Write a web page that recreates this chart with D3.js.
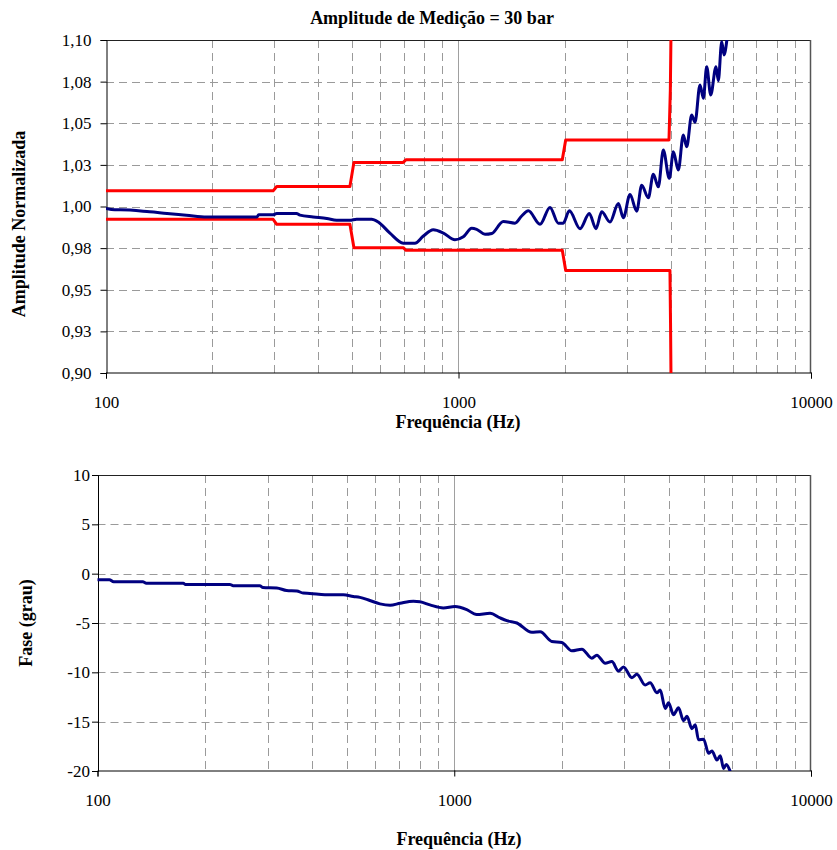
<!DOCTYPE html>
<html>
<head>
<meta charset="utf-8">
<script src="https://cdn.jsdelivr.net/npm/d3@7"></script>
<style>
  body { margin: 0; background: #fff; }
  svg { display: block; }
  text { font-family: "Liberation Serif", "Times New Roman", serif; fill: #000; }
</style>
</head>
<body>
<svg id="chart" width="837" height="850"></svg>
<script>
// ---- data ----
const freqTicks = [100, 1000, 10000];
const freqTickLabels = ["100", "1000", "10000"];
const freqMinor = [200, 300, 400, 500, 600, 700, 800, 900, 2000, 3000, 4000, 5000, 6000, 7000, 8000, 9000];

const ampTicks = [0.9, 0.925, 0.95, 0.975, 1.0, 1.025, 1.05, 1.075, 1.1];
const ampTickLabels = ["0,90", "0,93", "0,95", "0,98", "1,00", "1,03", "1,05", "1,08", "1,10"];

const phaseTicks = [-20, -15, -10, -5, 0, 5, 10];
const phaseTickLabels = ["-20", "-15", "-10", "-5", "0", "5", "10"];

// normalized amplitude response
const ampFreq = [100, 106, 110, 133, 149, 169, 193, 268, 271, 298, 305, 347, 355, 387, 423, 451, 492, 514, 567, 592,
  639, 697, 752, 795, 848, 906, 977, 1032, 1090, 1126, 1189, 1243, 1340, 1446, 1511, 1578, 1703, 1818, 1919, 1982,
  2063, 2212, 2350, 2455, 2548, 2690, 2841, 2935, 3066, 3203, 3309, 3455, 3570, 3689, 3811, 3963, 4070, 4203, 4342,
  4440, 4587, 4688, 4843, 4950, 5060, 5194, 5377, 5458, 5581, 5665, 5789, 5850];
const ampValue = [0.9988, 0.998, 0.998, 0.9968, 0.9958, 0.9948, 0.9937, 0.9937, 0.995, 0.995, 0.9958, 0.9958, 0.9948,
  0.9937, 0.9928, 0.9917, 0.9917, 0.9924, 0.9924, 0.9907, 0.984, 0.978, 0.9779, 0.9823, 0.986, 0.984, 0.980, 0.9818,
  0.9869, 0.9863, 0.9833, 0.9838, 0.991, 0.990, 0.9943, 0.9974, 0.9893, 0.9994, 0.990, 0.990, 0.9974, 0.9867, 0.9958,
  0.9867, 0.9968, 0.9907, 1.0018, 0.9932, 1.0072, 0.9972, 1.0128, 1.0052, 1.0193, 1.0118, 1.0339, 1.0169, 1.0329,
  1.0219, 1.0429, 1.0359, 1.055, 1.0506, 1.073, 1.065, 1.084, 1.067, 1.084, 1.0756, 1.099, 1.091, 1.102, 1.11];

// tolerance band
const upperFreq = [100, 298, 305, 492, 505, 697, 710, 1970, 2014, 3955, 3990, 4010];
const upperValue = [1.0094, 1.0094, 1.012, 1.012, 1.0265, 1.0265, 1.0281, 1.0281, 1.0399, 1.0399, 1.07, 1.11];
const lowerFreq = [100, 298, 305, 492, 505, 697, 710, 1970, 2014, 3980, 3995, 4010];
const lowerValue = [0.9923, 0.9923, 0.9893, 0.9893, 0.9753, 0.9753, 0.9737, 0.9737, 0.9616, 0.9616, 0.93, 0.89];

// phase response (degrees)
const phaseFreq = [100, 108, 111, 134, 137, 174, 176, 235, 240, 285, 291, 318, 339, 362, 377, 394, 434, 489, 521, 544,
  580, 619, 661, 705, 768, 802, 855, 932, 1005, 1084, 1156, 1260, 1345, 1404, 1498, 1650, 1741, 1877, 2002, 2136,
  2279, 2431, 2510, 2649, 2766, 2886, 2981, 3147, 3250, 3429, 3541, 3698, 3779, 3903, 3987, 4117, 4253, 4393, 4490,
  4637, 4737, 4839, 4998, 5162, 5276, 5450, 5568, 5688, 5788, 5940];
const phaseValue = [-0.61, -0.61, -0.82, -0.82, -0.96, -0.96, -1.09, -1.09, -1.22, -1.22, -1.40, -1.45, -1.7, -1.75,
  -1.97, -2.0, -2.14, -2.14, -2.31, -2.4, -2.72, -3.06, -3.2, -3.0, -2.79, -2.85, -3.16, -3.47, -3.33, -3.64, -4.15,
  -4.01, -4.49, -4.76, -5.0, -5.95, -5.88, -6.87, -6.97, -7.82, -7.65, -8.57, -8.26, -9.08, -8.91, -9.86, -9.45,
  -10.54, -10.2, -11.29, -11.05, -12.07, -11.8, -13.67, -13.09, -14.29, -13.6, -14.9, -14.46, -15.71, -15.3, -16.84,
  -16.77, -18.2, -17.97, -18.89, -18.45, -19.74, -19.33, -20.07];

// ---- drawing ----
const svg = d3.select("#chart");
const zip = (xs, ys) => xs.map((x, i) => [x, ys[i]]);

function panel(cfg) {
  const x = d3.scaleLog().domain([100, 10000]).range([cfg.left, cfg.right]);
  const y = d3.scaleLinear().domain(cfg.domain).range([cfg.bottom, cfg.top]);
  const g = svg.append("g");

  const clipId = "clip-" + cfg.id;
  svg.append("clipPath").attr("id", clipId)
    .append("rect").attr("x", cfg.left).attr("y", cfg.top)
    .attr("width", cfg.right - cfg.left).attr("height", cfg.bottom - cfg.top);

  // horizontal dashed grid
  g.append("g").selectAll("line").data(cfg.ticks.slice(1, -1)).join("line")
    .attr("x1", cfg.left).attr("x2", cfg.right)
    .attr("y1", d => Math.round(y(d)) + 0.5).attr("y2", d => Math.round(y(d)) + 0.5)
    .attr("stroke", "#9a9a9a").attr("stroke-width", 1).attr("stroke-dasharray", "8,5");
  // vertical dashed grid
  g.append("g").selectAll("line").data(freqMinor).join("line")
    .attr("x1", d => Math.round(x(d)) + 0.5).attr("x2", d => Math.round(x(d)) + 0.5)
    .attr("y1", cfg.top).attr("y2", cfg.bottom)
    .attr("stroke", "#9a9a9a").attr("stroke-width", 1).attr("stroke-dasharray", "8,5");
  // major decade line
  g.append("line")
    .attr("x1", Math.round(x(1000)) + 0.5).attr("x2", Math.round(x(1000)) + 0.5)
    .attr("y1", cfg.top).attr("y2", cfg.bottom)
    .attr("stroke", "#a0a0a0").attr("stroke-width", 1);

  // frame
  g.append("line").attr("x1", cfg.left).attr("x2", cfg.right)
    .attr("y1", cfg.top + 0.5).attr("y2", cfg.top + 0.5).attr("stroke", "#222");
  g.append("line").attr("x1", cfg.right - 0.5).attr("x2", cfg.right - 0.5)
    .attr("y1", cfg.top).attr("y2", cfg.bottom).attr("stroke", "#555").attr("stroke-width", 1.5);

  // axes
  const yAxis = d3.axisLeft(y).tickValues(cfg.ticks)
    .tickFormat((d, i) => cfg.labels[i]).tickSize(6).tickPadding(cfg.yPad);
  const ya = g.append("g").attr("transform", `translate(${cfg.left + 0.5},0)`).call(yAxis);
  ya.select(".domain").attr("stroke", "#000");
  ya.selectAll(".tick line").attr("stroke", "#000");
  ya.selectAll(".tick text").style("font-size", "17px")
    .style("font-family", '"Liberation Serif", "Times New Roman", serif');

  const xAxis = d3.axisBottom(x).tickValues(freqTicks)
    .tickFormat((d, i) => freqTickLabels[i]).tickSize(6).tickPadding(17);
  const xa = g.append("g").attr("transform", `translate(0,${cfg.bottom - 0.5})`).call(xAxis);
  xa.select(".domain").attr("stroke", "#000");
  xa.selectAll(".tick line").attr("stroke", "#000");
  xa.selectAll(".tick text").style("font-size", "17px")
    .style("font-family", '"Liberation Serif", "Times New Roman", serif');

  // series
  const plot = g.append("g").attr("clip-path", `url(#${clipId})`);
  cfg.series.forEach(s => {
    const line = d3.line().x(d => x(d[0])).y(d => y(d[1])).curve(s.curve || d3.curveLinear);
    plot.append("path").datum(s.data)
      .attr("d", line).attr("fill", "none")
      .attr("stroke", s.color).attr("stroke-width", 3)
      .attr("stroke-linejoin", "round").attr("stroke-linecap", "round");
  });

  // axis titles
  g.append("text").attr("x", cfg.xTitleX).attr("y", cfg.xTitleY)
    .attr("text-anchor", "middle").style("font-size", "18px").style("font-weight", "bold")
    .text("Frequência (Hz)");
  g.append("text")
    .attr("transform", `translate(${cfg.yTitleX},${cfg.yTitleY}) rotate(-90)`)
    .attr("text-anchor", "middle").attr("dominant-baseline", "central")
    .style("font-size", "18px").style("font-weight", "bold")
    .text(cfg.yTitle);
}

svg.append("text").attr("x", 432).attr("y", 24).attr("text-anchor", "middle")
  .style("font-size", "18px").style("font-weight", "bold")
  .text("Amplitude de Medição = 30 bar");

panel({
  id: "amp", left: 106, right: 811, top: 40, bottom: 373,
  domain: [0.9, 1.1], ticks: ampTicks, labels: ampTickLabels, yPad: 9,
  yTitle: "Amplitude Normalizada", yTitleX: 19, yTitleY: 224, xTitleX: 458, xTitleY: 428,
  series: [
    { data: zip(upperFreq, upperValue), color: "#ff0000" },
    { data: zip(lowerFreq, lowerValue), color: "#ff0000" },
    { data: zip(ampFreq, ampValue), color: "#000080", curve: d3.curveMonotoneX }
  ]
});

panel({
  id: "phase", left: 97.5, right: 811, top: 475, bottom: 771,
  domain: [-20, 10], ticks: phaseTicks, labels: phaseTickLabels, yPad: 2,
  yTitle: "Fase (grau)", yTitleX: 25.5, yTitleY: 623, xTitleX: 459, xTitleY: 845,
  series: [
    { data: zip(phaseFreq, phaseValue), color: "#000080", curve: d3.curveMonotoneX }
  ]
});
</script>
</body>
</html>
